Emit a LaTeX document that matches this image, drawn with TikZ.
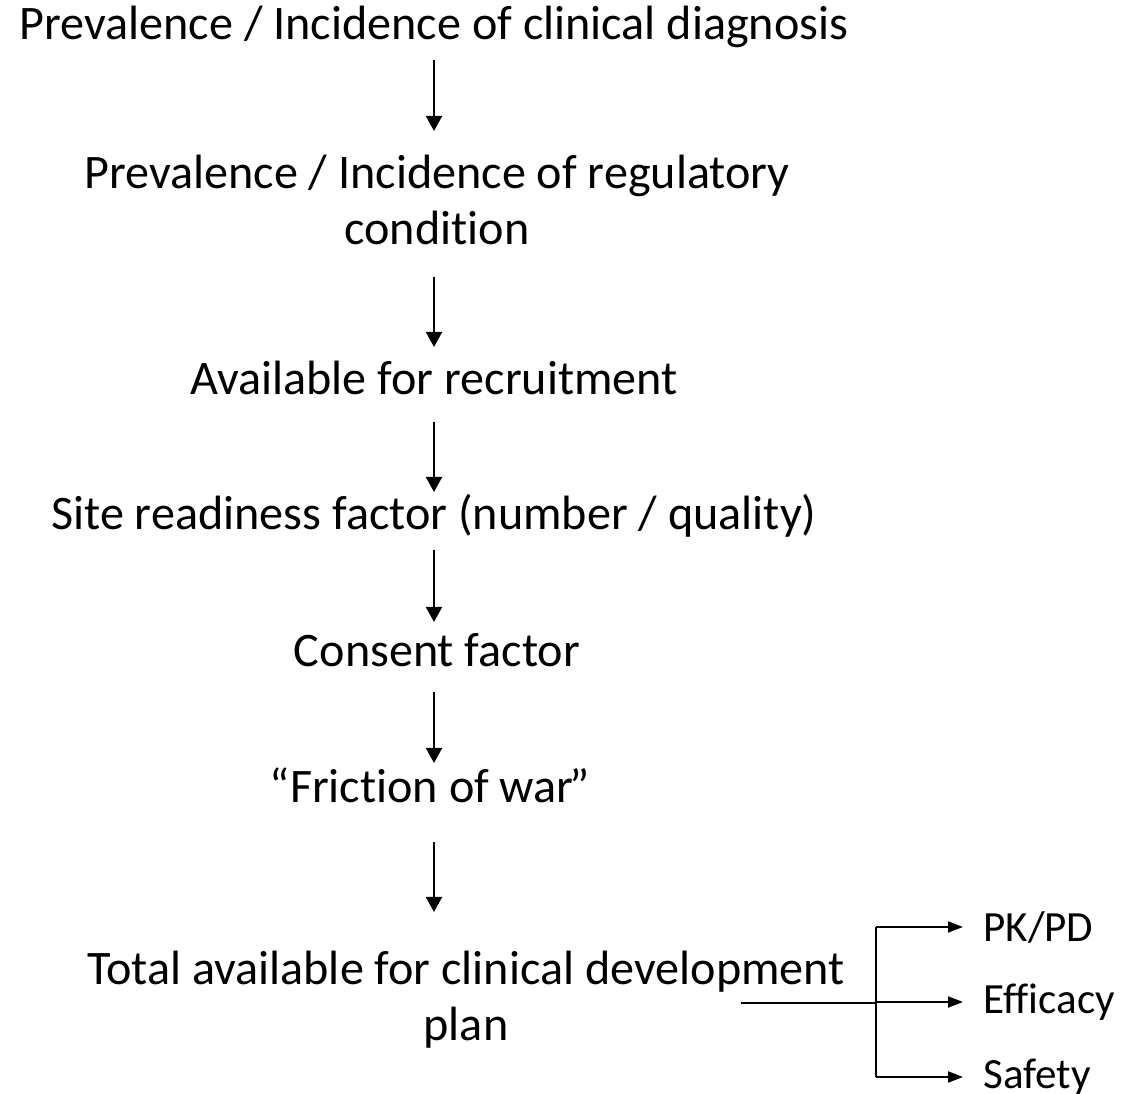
\documentclass[tikz,border=0pt]{standalone}
\usepackage{fontspec}
\setmainfont{Carlito}[Ligatures={NoCommon}]
\usetikzlibrary{arrows.meta}
\usetikzlibrary{positioning}

\tikzset{
  label text/.style={inner sep=0pt, align=center, font=\fontsize{27.4}{32}\selectfont},
  study text/.style={inner sep=0pt, anchor=west, font=\fontsize{24.5}{29}\selectfont},
  flow/.style={line width=1.1pt, -{Triangle[length=0.3cm,width=0.32cm]}},
  branch/.style={line width=1.1pt, -{Triangle[length=0.3cm,width=0.22cm]}}
}

\begin{document}
\begin{tikzpicture}
        \useasboundingbox (0,0) rectangle (22.74,21.88);

        % funnel steps
        \node[label text] (diag) at (8.68,21.34) {Prevalence / Incidence of clinical diagnosis};
        \node[label text] (reg) at (8.74,17.88) {Prevalence / Incidence of regulatory\\condition};
        \node[label text] (avail) at (8.68,14.32) {Available for recruitment};
        \node[label text] (site) at (8.68,11.56) {Site readiness factor (number / quality)};
        \node[label text] (consent) at (8.74,8.88) {Consent factor};
        \node[label text] (friction) at (8.60,6.18) {“Friction of war\kern-0.08em”};
        \node[label text] (total) at (9.32,1.88) {Total available for clinical development\\plan};

        \draw[flow] ([yshift=-0.66cm]diag.center -| 8.68,0) -- ([yshift=1.38cm]reg.center -| 8.68,0);
        \draw[flow] ([yshift=-1.54cm]reg.center -| 8.68,0) -- ([yshift=0.62cm]avail.center -| 8.68,0);
        \draw[flow] ([yshift=-0.88cm]avail.center -| 8.68,0) -- ([yshift=0.48cm]site.center -| 8.68,0);
        \draw[flow] ([yshift=-0.68cm]site.center -| 8.68,0) -- ([yshift=0.56cm]consent.center -| 8.68,0);
        \draw[flow] ([yshift=-0.84cm]consent.center -| 8.68,0) -- ([yshift=0.44cm]friction.center -| 8.68,0);
        \draw[flow] ([yshift=-1.14cm]friction.center -| 8.68,0) -- ([yshift=1.76cm]total.center -| 8.68,0);

        % split into the three study types
        \node[study text] (pk) at (19.66,3.34) {PK/PD};
        \node[study text] (eff) at (19.66,1.84) {Efficacy};
        \node[study text] (safe) at (19.66,0.34) {Safety};

        \coordinate (tail) at (14.82,1.82);
        \coordinate (fork) at (17.52,1.82);
        \draw[line width=1.1pt] (tail) -- (fork);
        \draw[line width=1.1pt] (fork |- pk) -- (fork |- safe);
        \draw[branch] (fork |- pk) -- ([xshift=-0.4cm]pk.west);
        \draw[branch] (fork |- eff) -- ([xshift=-0.4cm]eff.west);
        \draw[branch] (fork |- safe) -- ([xshift=-0.4cm]safe.west);
      \end{tikzpicture}
\end{document}
